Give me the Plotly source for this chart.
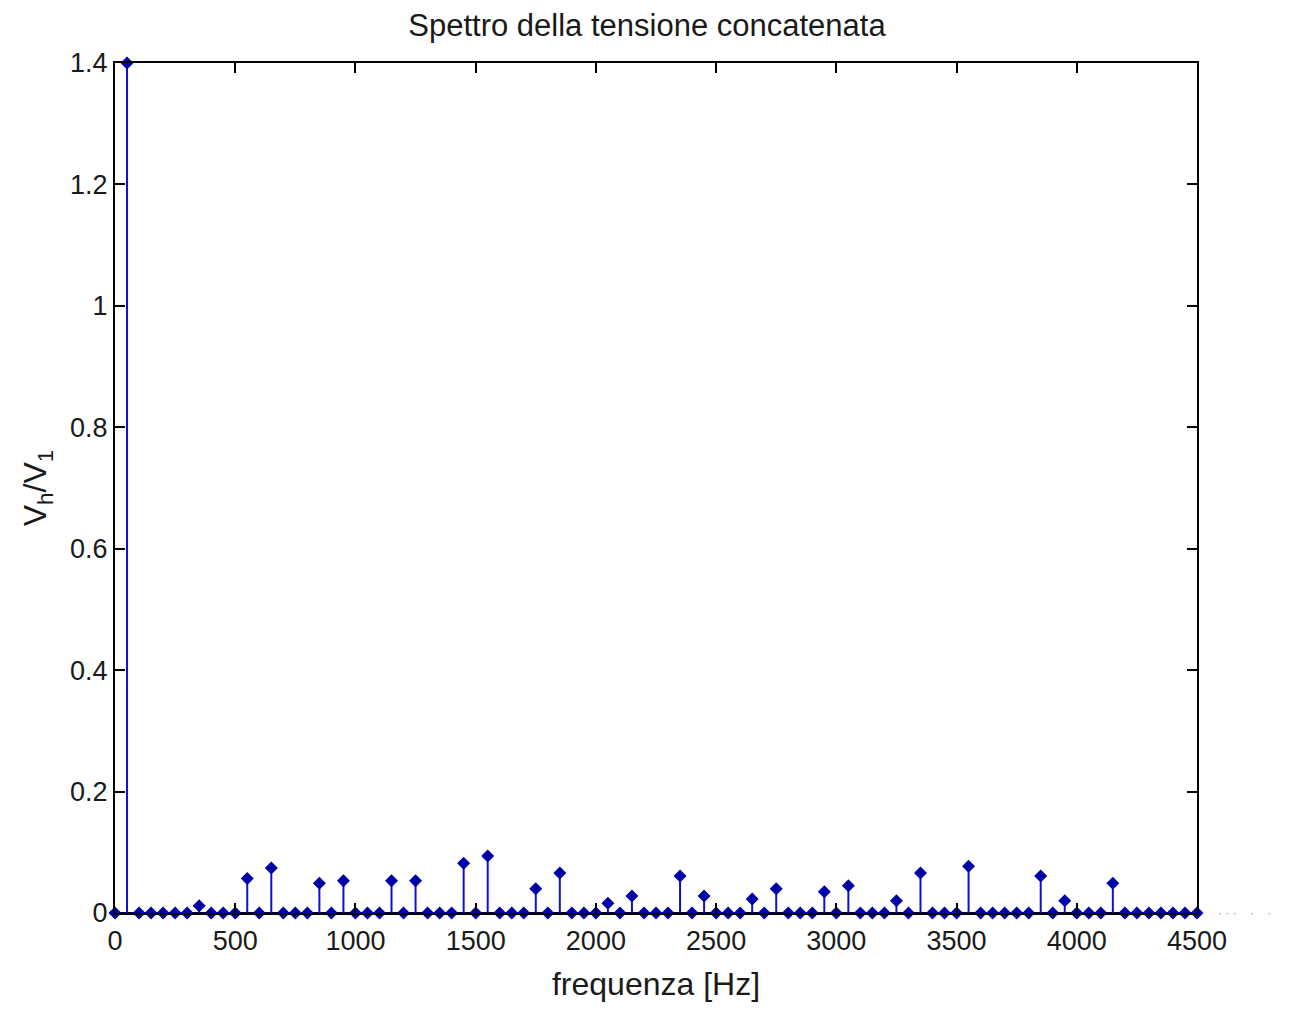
import plotly.graph_objects as go

freq_hz = [0, 50, 100, 150, 200, 250, 300, 350, 400, 450,
           500, 550, 600, 650, 700, 750, 800, 850, 900, 950,
           1000, 1050, 1100, 1150, 1200, 1250, 1300, 1350, 1400, 1450,
           1500, 1550, 1600, 1650, 1700, 1750, 1800, 1850, 1900, 1950,
           2000, 2050, 2100, 2150, 2200, 2250, 2300, 2350, 2400, 2450,
           2500, 2550, 2600, 2650, 2700, 2750, 2800, 2850, 2900, 2950,
           3000, 3050, 3100, 3150, 3200, 3250, 3300, 3350, 3400, 3450,
           3500, 3550, 3600, 3650, 3700, 3750, 3800, 3850, 3900, 3950,
           4000, 4050, 4100, 4150, 4200, 4250, 4300, 4350, 4400, 4450,
           4500]

vh_v1 = [0, 1.4, 0, 0, 0, 0, 0, 0.012, 0, 0,
         0, 0.057, 0, 0.074, 0, 0, 0, 0.049, 0, 0.053,
         0, 0, 0, 0.053, 0, 0.053, 0, 0, 0, 0.082,
         0, 0.094, 0, 0, 0, 0.040, 0, 0.066, 0, 0,
         0, 0.016, 0, 0.028, 0, 0, 0, 0.061, 0, 0.028,
         0, 0, 0, 0.023, 0, 0.040, 0, 0, 0, 0.035,
         0, 0.045, 0, 0, 0, 0.020, 0, 0.066, 0, 0,
         0, 0.077, 0, 0, 0, 0, 0, 0.061, 0, 0.020,
         0, 0, 0, 0.049, 0, 0, 0, 0, 0, 0,
         0]

x_ticks = [0, 500, 1000, 1500, 2000, 2500, 3000, 3500, 4000, 4500]
y_ticks = [0, 0.2, 0.4, 0.6, 0.8, 1.0, 1.2, 1.4]
y_tick_text = ["0", "0.2", "0.4", "0.6", "0.8", "1", "1.2", "1.4"]

FONT = "Liberation Sans, Arial, Helvetica, sans-serif"
FS = 27

stem_x, stem_y = [], []
for f, v in zip(freq_hz, vh_v1):
    if v != 0:
        stem_x += [f, f, None]
        stem_y += [0, v, None]

fig = go.Figure()
fig.add_trace(go.Scatter(x=[0, 4500], y=[0, 0], mode="lines",
                         line=dict(color="black", width=2), hoverinfo="skip",
                         showlegend=False))
fig.add_trace(go.Scatter(x=stem_x, y=stem_y, mode="lines",
                         line=dict(color="#1010d0", width=2),
                         showlegend=False, cliponaxis=False))
fig.add_trace(go.Scatter(x=freq_hz, y=vh_v1, mode="markers",
                         marker=dict(symbol="diamond", size=10, color="#0000a8",
                                     line=dict(width=0)),
                         showlegend=False, cliponaxis=False))

fig.update_layout(
    width=1278, height=994,
    margin=dict(l=107, r=89, t=55, b=89),
    paper_bgcolor="white", plot_bgcolor="white",
    font=dict(family=FONT, size=FS, color="#1a1a1a"),
    title=dict(text="Spettro della tensione concatenata", x=0.5, xanchor="center",
               y=1 - 17 / 994, yanchor="middle", font=dict(family=FONT, size=31)),
    xaxis=dict(range=[0, 4500], tickvals=x_ticks, ticks="inside", ticklen=10,
               tickwidth=2, tickcolor="black", showline=True, linecolor="black",
               linewidth=2, mirror="ticks", showgrid=False, zeroline=False,
               ticklabelstandoff=3, automargin=False,
               title=dict(text="frequenza [Hz]", standoff=20, font=dict(family=FONT, size=32)),
               tickfont=dict(family=FONT, size=FS)),
    yaxis=dict(range=[0, 1.4], tickvals=y_ticks, ticktext=y_tick_text, ticks="inside",
               ticklen=10, tickwidth=2, tickcolor="black", showline=True,
               linecolor="black", linewidth=2, mirror="ticks", showgrid=False,
               zeroline=False, automargin=False,
               title=dict(text="V<sub>h</sub>/V<sub>1</sub>", standoff=14,
                          font=dict(family=FONT, size=32)),
               tickfont=dict(family=FONT, size=FS)),
    annotations=[dict(text="\u00b7 \u00b7 \u00b7    \u00b7    \u00b7", xref="paper", yref="paper",
                      x=1.018, y=0, xanchor="left", yanchor="middle", showarrow=False,
                      font=dict(size=12, color="#999999"))],
)

fig.write_html("out.html")
